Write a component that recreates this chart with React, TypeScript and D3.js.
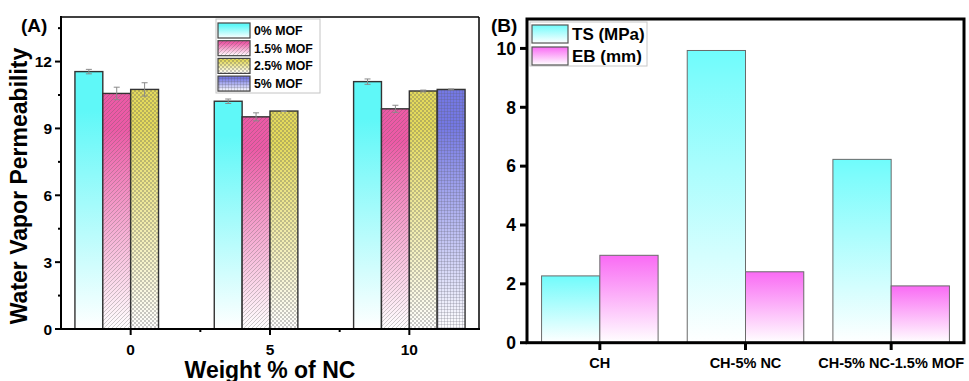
import React from "react";
import * as d3 from "d3";

// ---------- Panel A data ----------
const ncLevels = [0, 5, 10];
const ncTicks = [0, 5, 10];
const mofSeries = ["0% MOF", "1.5% MOF", "2.5% MOF", "5% MOF"];
const wvpMOF0 = [11.55, 10.22, 11.1];
const wvpMOF15 = [10.57, 9.52, 9.88];
const wvpMOF25 = [10.75, 9.78, 10.68];
const wvpMOF5: (number | null)[] = [null, null, 10.75];
const errMOF0 = [0.1, 0.1, 0.12];
const errMOF15 = [0.28, 0.18, 0.16];
const errMOF25 = [0.3, 0.02, 0.04];
const errMOF5: (number | null)[] = [null, null, 0.02];
const yTicksA = [0, 3, 6, 9, 12];

// ---------- Panel B data ----------
const samples = ["CH", "CH-5% NC", "CH-5% NC-1.5% MOF"];
const mechSeries = ["TS (MPa)", "EB (mm)"];
const tsValues = [2.27, 9.93, 6.23];
const ebValues = [2.97, 2.41, 1.93];
const yTicksB = [0, 2, 4, 6, 8, 10];

const FONT = "'Liberation Sans', Arial, Helvetica, sans-serif";

const seriesA = [
  { vals: wvpMOF0, errs: errMOF0, color: "#5ff8f8", pat: null },
  { vals: wvpMOF15, errs: errMOF15, color: "#ec5aa6", pat: "hatch" },
  { vals: wvpMOF25, errs: errMOF25, color: "#e4da5c", pat: "dots" },
  { vals: wvpMOF5, errs: errMOF5, color: "#7478e4", pat: "grid" },
];

export default function App() {
  // Panel A scales
  const xA = d3.scaleLinear().domain([-2.5, 12.5]).range([61, 479]);
  const yA = d3.scaleLinear().domain([0, 14]).range([329, 17]);
  const unitA = xA(1) - xA(0);
  const minorYA = d3.range(1.5, 14, 3);
  const minorXA = [2.5, 7.5];

  // Panel B scales
  const xB = d3.scaleLinear().domain([0.5, 3.5]).range([527, 964]);
  const yB = d3.scaleLinear().domain([0, 11]).range([342.7, 19]);
  const unitB = xB(1) - xB(0);

  const legendRowsA = mofSeries.map((name, i) => ({ name, s: seriesA[i] }));

  return (
    <svg
      width={969}
      height={381}
      style={{ position: "absolute", left: 0, top: 0, background: "#fff" }}
      fontFamily={FONT}
      fontWeight="bold"
    >
      <defs>
        {seriesA.map((s, i) => (
          <linearGradient key={i} id={`gA${i}`} x1="0" y1="0" x2="0" y2="1">
            <stop offset="0" stopColor={s.color} />
            <stop offset="0.15" stopColor={s.color} />
            <stop offset="1" stopColor="#ffffff" />
          </linearGradient>
        ))}
        <linearGradient id="gB0" x1="0" y1="0" x2="0" y2="1">
          <stop offset="0" stopColor="#6ffcfc" />
          <stop offset="0.1" stopColor="#7ffcfc" />
          <stop offset="1" stopColor="#ffffff" />
        </linearGradient>
        <linearGradient id="gB1" x1="0" y1="0" x2="0" y2="1">
          <stop offset="0" stopColor="#fa6af5" />
          <stop offset="0.1" stopColor="#fa7af5" />
          <stop offset="1" stopColor="#ffffff" />
        </linearGradient>
        <pattern id="hatch" width="4" height="4" patternUnits="userSpaceOnUse">
          <path d="M-1,1 l2,-2 M0,4 l4,-4 M3,5 l2,-2" stroke="rgba(90,90,90,0.35)" strokeWidth="0.9" />
        </pattern>
        <pattern id="dots" width="4" height="4" patternUnits="userSpaceOnUse">
          <rect x="0" y="0" width="2" height="2" fill="rgba(90,90,90,0.33)" />
          <rect x="2" y="2" width="2" height="2" fill="rgba(90,90,90,0.33)" />
        </pattern>
        <pattern id="grid" width="3" height="3" patternUnits="userSpaceOnUse">
          <path d="M0.5,0 V3 M0,0.5 H3" stroke="rgba(90,90,110,0.3)" strokeWidth="0.8" />
        </pattern>
      </defs>

      {/* ================= Panel A ================= */}
      <g>
        {seriesA.map((s, si) =>
          ncLevels.map((nc, gi) => {
            const v = s.vals[gi];
            if (v == null) return null;
            const x0 = xA(nc - 2 + si);
            const y0 = yA(v);
            const h = yA(0) - y0;
            return (
              <g key={`${si}-${gi}`}>
                <rect x={x0} y={y0} width={unitA} height={h} fill={`url(#gA${si})`} />
                {s.pat && <rect x={x0} y={y0} width={unitA} height={h} fill={`url(#${s.pat})`} />}
                <rect x={x0} y={y0} width={unitA} height={h} fill="none" stroke="#333" strokeWidth={1.4} />
              </g>
            );
          })
        )}
        {/* error bars */}
        {seriesA.map((s, si) =>
          ncLevels.map((nc, gi) => {
            const v = s.vals[gi];
            const e = s.errs[gi];
            if (v == null || e == null) return null;
            const cx = xA(nc - 1.5 + si);
            return (
              <g key={`e${si}-${gi}`} stroke="#8a8a8a" strokeWidth={1}>
                <line x1={cx} x2={cx} y1={yA(v + e)} y2={yA(v - e)} />
                <line x1={cx - 3} x2={cx + 3} y1={yA(v + e)} y2={yA(v + e)} />
                <line x1={cx - 3} x2={cx + 3} y1={yA(v - e)} y2={yA(v - e)} />
              </g>
            );
          })
        )}
        {/* frame */}
        <line x1={61} x2={479} y1={17} y2={17} stroke="#000" strokeWidth={1.5} />
        <line x1={479} x2={479} y1={17} y2={330} stroke="#000" strokeWidth={1.5} />
        <line x1={61} x2={61} y1={16} y2={330} stroke="#000" strokeWidth={2} />
        <line x1={60} x2={480} y1={329} y2={329} stroke="#000" strokeWidth={2} />
        {/* y ticks */}
        {yTicksA.map((t) => (
          <g key={t}>
            <line x1={55} x2={61} y1={yA(t)} y2={yA(t)} stroke="#000" strokeWidth={2} />
            <text x={52} y={yA(t)} dy="0.36em" textAnchor="end" fontSize={15.5}>
              {t}
            </text>
          </g>
        ))}
        {minorYA.map((t) => (
          <line key={t} x1={58} x2={61} y1={yA(t)} y2={yA(t)} stroke="#000" strokeWidth={2} />
        ))}
        {/* x ticks */}
        {ncTicks.map((t) => (
          <g key={t}>
            <line x1={xA(t)} x2={xA(t)} y1={329} y2={335} stroke="#000" strokeWidth={2} />
            <text x={xA(t)} y={355} textAnchor="middle" fontSize={15.5}>
              {t}
            </text>
          </g>
        ))}
        {minorXA.map((t) => (
          <line key={t} x1={xA(t)} x2={xA(t)} y1={329} y2={332} stroke="#000" strokeWidth={2} />
        ))}
        <text x={270} y={378} textAnchor="middle" fontSize={23}>
          Weight % of NC
        </text>
        <text transform="translate(27,186) rotate(-90)" textAnchor="middle" fontSize={23}>
          Water Vapor Permeability
        </text>
        <text x={21} y={32} fontSize={19}>
          (A)
        </text>
        {/* legend */}
        <rect x={216} y={19} width={104} height={74} fill="#fff" stroke="#c4c4c4" strokeWidth={1} />
        {legendRowsA.map((r, i) => {
          const y = 23 + i * 17.7;
          return (
            <g key={r.name}>
              <rect x={218} y={y} width={32} height={15} fill={`url(#gA${i})`} />
              {r.s.pat && <rect x={218} y={y} width={32} height={15} fill={`url(#${r.s.pat})`} />}
              <rect x={218} y={y} width={32} height={15} fill="none" stroke="#444" strokeWidth={1.2} />
              <text x={254} y={y + 7.5} dy="0.36em" fontSize={12.3}>
                {r.name}
              </text>
            </g>
          );
        })}
      </g>

      {/* ================= Panel B ================= */}
      <g>
        {samples.map((s, i) => {
          const c = i + 1;
          const bars = [
            { v: tsValues[i], x0: xB(c - 0.4), g: "gB0" },
            { v: ebValues[i], x0: xB(c), g: "gB1" },
          ];
          return (
            <g key={s}>
              {bars.map((b, j) => (
                <rect
                  key={j}
                  x={b.x0}
                  y={yB(b.v)}
                  width={unitB * 0.4}
                  height={yB(0) - yB(b.v)}
                  fill={`url(#${b.g})`}
                  stroke="#6a6a6a"
                  strokeWidth={1}
                />
              ))}
            </g>
          );
        })}
        {/* frame */}
        <rect x={527} y={19} width={437} height={323.7} fill="none" stroke="#000" strokeWidth={3} />
        {yTicksB.map((t) => (
          <g key={t}>
            <line x1={520} x2={527} y1={yB(t)} y2={yB(t)} stroke="#000" strokeWidth={3} />
            <text x={516} y={yB(t)} dy="0.36em" textAnchor="end" fontSize={17.5}>
              {t}
            </text>
          </g>
        ))}
        {samples.map((s, i) => (
          <g key={s}>
            <line x1={xB(i + 1)} x2={xB(i + 1)} y1={342.7} y2={350} stroke="#000" strokeWidth={3} />
            <text x={xB(i + 1)} y={368} textAnchor="middle" fontSize={14.5}>
              {s}
            </text>
          </g>
        ))}
        <text x={491} y={32} fontSize={19}>
          (B)
        </text>
        {/* legend */}
        <rect x={530} y={22} width={117} height={44} fill="#fff" stroke="#c8c8c8" strokeWidth={1} />
        {mechSeries.map((name, i) => {
          const y = 25 + i * 22;
          return (
            <g key={name}>
              <rect x={532} y={y} width={36} height={18} fill={`url(#gB${i})`} stroke="#555" strokeWidth={1.2} />
              <text x={572} y={y + 9} dy="0.36em" fontSize={17}>
                {name}
              </text>
            </g>
          );
        })}
      </g>
    </svg>
  );
}
